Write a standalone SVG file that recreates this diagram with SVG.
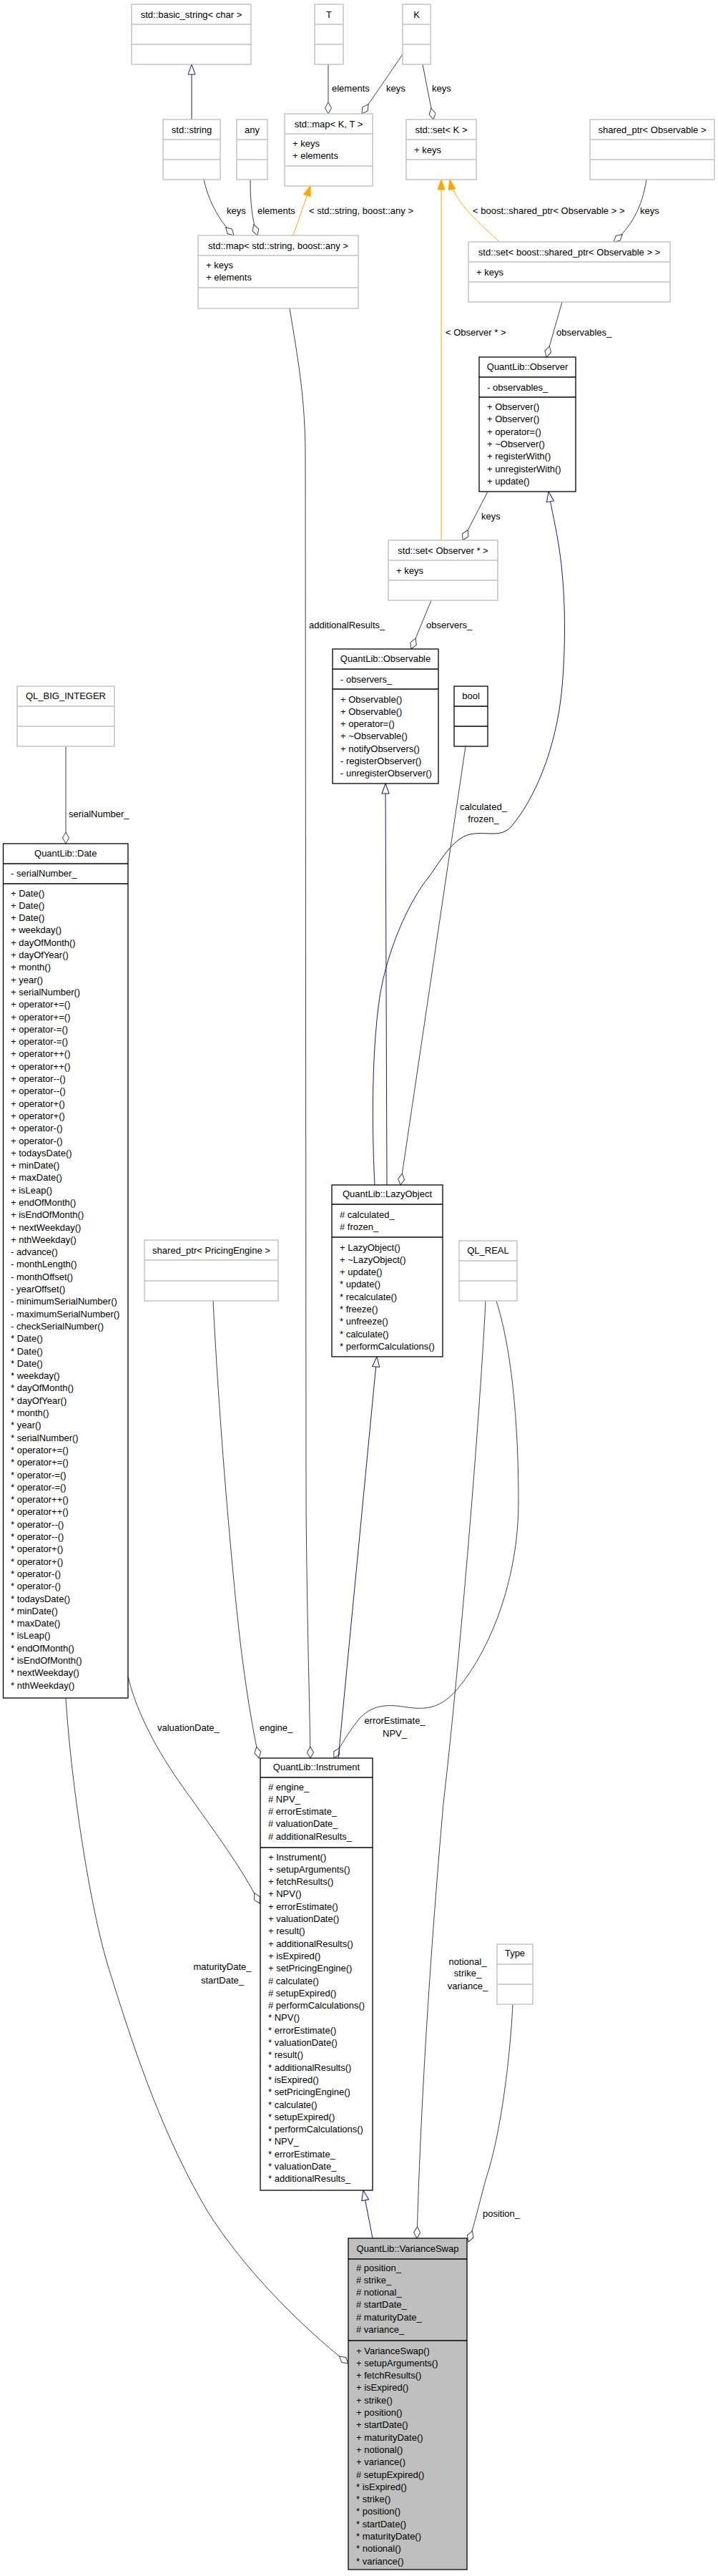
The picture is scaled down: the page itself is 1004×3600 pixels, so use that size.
<svg xmlns="http://www.w3.org/2000/svg" width="1004" height="3600" viewBox="0 0 1004 3600">
<style>
text{font-family:"Liberation Sans",Arial,Helvetica,sans-serif;font-size:13px;fill:#000}
.c{text-anchor:middle}
.g rect{fill:#fff;stroke:#bfbfbf;stroke-width:1.4}
.g line{stroke:#bfbfbf;stroke-width:1.4}
.b rect{fill:#fff;stroke:#000;stroke-width:1.3}
.b line{stroke:#000;stroke-width:1.3}
#n_vs rect{fill:#bfbfbf}
.use{fill:none;stroke:#404040;stroke-width:1;marker-end:url(#dia)}
.inh{fill:none;stroke:#191970;stroke-width:1;marker-end:url(#inh)}
.tpl{fill:none;stroke:#ffa500;stroke-width:1;marker-end:url(#tpl)}
</style>
<defs>
<marker id="dia" markerUnits="userSpaceOnUse" markerWidth="20" markerHeight="14" viewBox="-1 -7 20 14" refX="16" refY="0" orient="auto"><path d="M0,0 L8,-4.5 L16,0 L8,4.5 Z" fill="#fff" stroke="#404040" stroke-width="1"/></marker>
<marker id="inh" markerUnits="userSpaceOnUse" markerWidth="18" markerHeight="14" viewBox="-1 -7 18 14" refX="14" refY="0" orient="auto"><path d="M0,-5 L14,0 L0,5 Z" fill="#fff" stroke="#191970" stroke-width="1"/></marker>
<marker id="tpl" markerUnits="userSpaceOnUse" markerWidth="18" markerHeight="14" viewBox="-1 -7 18 14" refX="14" refY="0" orient="auto"><path d="M0,-5 L14,0 L0,5 Z" fill="#ffa500" stroke="#ffa500" stroke-width="1"/></marker>
</defs>
<rect x="0" y="0" width="1004" height="3600" fill="#fff"/>

<g id="edges">
<path class="inh" d="M268,167 L268,90"/>
<path class="use" d="M459,90 L459,159"/>
<path class="use" d="M563,76 L506,159"/>
<path class="use" d="M591,90 L606,167"/>
<path class="use" d="M285,251 C291,278 304,306 327,329"/>
<path class="use" d="M350,251 C350,282 352,306 360,329"/>
<path class="tpl" d="M410,329 L434,260"/>
<path class="tpl" d="M617,755 L617,251"/>
<path class="tpl" d="M698,338 C675,315 636,285 629,251"/>
<path class="use" d="M904,251 C898,290 882,318 858,338"/>
<path class="use" d="M786,422 L764,499"/>
<path class="use" d="M682,687 L647,755"/>
<path class="use" d="M603,839 L575,907"/>
<path class="use" d="M405,431 C418,510 427,560 427,640 L428,2100 C429,2250 433,2380 434,2457"/>
<path class="use" d="M92,1043 L92,1179"/>
<path class="inh" d="M541,1656 L539,1095"/>
<path class="inh" d="M524,1656 C521,1600 518,1480 531,1393 C541,1330 570,1262 600,1225 C615,1205 632,1172 657,1166 C680,1161 700,1172 715,1155 C745,1120 778,1050 786,960 C792,890 790,820 782,767 C778,740 771,710 767,687"/>
<path class="use" d="M651,1043 L560,1656"/>
<path class="use" d="M298,1818 C302,1900 312,2060 330,2240 C340,2340 352,2410 362,2457"/>
<path class="use" d="M179,2343 C195,2410 238,2474 267,2513 C300,2560 338,2610 363,2660"/>
<path class="use" d="M694,1818 C714,1880 725,1980 725,2100 C725,2200 690,2300 640,2360 C618,2386 598,2390 570,2386 C545,2382 520,2380 500,2405 C488,2420 476,2440 467,2457"/>
<path class="inh" d="M473,2457 L527,1896"/>
<path class="use" d="M679,1818 C670,2000 640,2350 620,2520 C600,2750 588,2950 583,3128"/>
<path class="use" d="M717,2801 C712,2900 696,2995 681,3040 C672,3070 665,3105 655,3133"/>
<path class="use" d="M92,2373 C100,2500 128,2680 155,2760 C192,2880 232,2992 290,3090 C340,3170 420,3250 487,3303"/>
<path class="inh" d="M521,3128 L508,3061"/>
<text x="464" y="127.5">elements</text>
<text x="540" y="127.5">keys</text>
<text x="604" y="127.5">keys</text>
<text x="317" y="298.5">keys</text>
<text x="360" y="298.5">elements</text>
<text x="432" y="298.5">&lt; std::string, boost::any &gt;</text>
<text x="661" y="298.5">&lt; boost::shared_ptr&lt; Observable &gt; &gt;</text>
<text x="895" y="298.5">keys</text>
<text x="623" y="468.5">&lt; Observer * &gt;</text>
<text x="778" y="468.5">observables_</text>
<text x="673" y="725.5">keys</text>
<text x="432" y="877.5">additionalResults_</text>
<text x="596" y="877.5">observers_</text>
<text x="96" y="1141.5">serialNumber_</text>
<text class="c" x="676" y="1131.5">calculated_</text>
<text class="c" x="676" y="1148.5">frozen_</text>
<text x="220" y="2418.5">valuationDate_</text>
<text x="363" y="2418.5">engine_</text>
<text class="c" x="552" y="2408.5">errorEstimate_</text>
<text class="c" x="552" y="2427">NPV_</text>
<text class="c" x="311" y="2752.5">maturityDate_</text>
<text class="c" x="311" y="2771.5">startDate_</text>
<text class="c" x="654" y="2745.5">notional_</text>
<text class="c" x="654" y="2762">strike_</text>
<text class="c" x="654" y="2779.5">variance_</text>
<text x="675" y="3097.5">position_</text>
</g>

<g id="n_basic_string" class="g"><rect x="184" y="6" width="167" height="84"/><line x1="184" y1="34" x2="351" y2="34"/><line x1="184" y1="62" x2="351" y2="62"/><text class="c" x="267.5" y="24.5">std::basic_string&lt; char &gt;</text></g>
<g id="n_T" class="g"><rect x="440" y="6" width="40" height="84"/><line x1="440" y1="34" x2="480" y2="34"/><line x1="440" y1="62" x2="480" y2="62"/><text class="c" x="460" y="24.5">T</text></g>
<g id="n_K" class="g"><rect x="563" y="6" width="39" height="84"/><line x1="563" y1="34" x2="602" y2="34"/><line x1="563" y1="62" x2="602" y2="62"/><text class="c" x="582.5" y="24.5">K</text></g>
<g id="n_string" class="g"><rect x="228" y="167" width="80" height="84"/><line x1="228" y1="195" x2="308" y2="195"/><line x1="228" y1="223" x2="308" y2="223"/><text class="c" x="268" y="185.5">std::string</text></g>
<g id="n_any" class="g"><rect x="331" y="167" width="43" height="84"/><line x1="331" y1="195" x2="374" y2="195"/><line x1="331" y1="223" x2="374" y2="223"/><text class="c" x="352.5" y="185.5">any</text></g>
<g id="n_mapKT" class="g"><rect x="398" y="159" width="123" height="101"/><line x1="398" y1="187" x2="521" y2="187"/><line x1="398" y1="232" x2="521" y2="232"/><text class="c" x="459.5" y="177.5">std::map&lt; K, T &gt;</text><text x="409" y="204.5">+ keys</text><text x="409" y="221.8">+ elements</text></g>
<g id="n_setK" class="g"><rect x="568" y="167" width="98" height="84"/><line x1="568" y1="195" x2="666" y2="195"/><line x1="568" y1="223" x2="666" y2="223"/><text class="c" x="617" y="185.5">std::set&lt; K &gt;</text><text x="579" y="213.5">+ keys</text></g>
<g id="n_sp_observable" class="g"><rect x="825" y="167" width="174" height="84"/><line x1="825" y1="195" x2="999" y2="195"/><line x1="825" y1="223" x2="999" y2="223"/><text class="c" x="912" y="185.5">shared_ptr&lt; Observable &gt;</text></g>
<g id="n_map_string_any" class="g"><rect x="277" y="329" width="224" height="102"/><line x1="277" y1="357" x2="501" y2="357"/><line x1="277" y1="402" x2="501" y2="402"/><text class="c" x="389" y="347.5">std::map&lt; std::string, boost::any &gt;</text><text x="288" y="374.5">+ keys</text><text x="288" y="391.8">+ elements</text></g>
<g id="n_set_sp" class="g"><rect x="655" y="338" width="282" height="84"/><line x1="655" y1="366" x2="937" y2="366"/><line x1="655" y1="394" x2="937" y2="394"/><text class="c" x="796" y="356.5">std::set&lt; boost::shared_ptr&lt; Observable &gt; &gt;</text><text x="666" y="384.5">+ keys</text></g>
<g id="n_observer" class="b"><rect x="670" y="499" width="135" height="188"/><line x1="670" y1="527" x2="805" y2="527"/><line x1="670" y1="555" x2="805" y2="555"/><text class="c" x="737.5" y="517">QuantLib::Observer</text><text x="681" y="545.5">- observables_</text>
<text x="681" y="573"><tspan x="681">+ Observer()</tspan><tspan x="681" dy="17.3">+ Observer()</tspan><tspan x="681" dy="17.3">+ operator=()</tspan><tspan x="681" dy="17.3">+ ~Observer()</tspan><tspan x="681" dy="17.3">+ registerWith()</tspan><tspan x="681" dy="17.3">+ unregisterWith()</tspan><tspan x="681" dy="17.3">+ update()</tspan></text></g>
<g id="n_set_observer" class="g"><rect x="543" y="755" width="153" height="84"/><line x1="543" y1="783" x2="696" y2="783"/><line x1="543" y1="811" x2="696" y2="811"/><text class="c" x="619.5" y="773.5">std::set&lt; Observer * &gt;</text><text x="554" y="801.5">+ keys</text></g>
<g id="n_observable" class="b"><rect x="465" y="907" width="148" height="188"/><line x1="465" y1="935" x2="613" y2="935"/><line x1="465" y1="963" x2="613" y2="963"/><text class="c" x="539" y="925">QuantLib::Observable</text><text x="476" y="953.5">- observers_</text>
<text x="476" y="981.5"><tspan x="476">+ Observable()</tspan><tspan x="476" dy="17.3">+ Observable()</tspan><tspan x="476" dy="17.3">+ operator=()</tspan><tspan x="476" dy="17.3">+ ~Observable()</tspan><tspan x="476" dy="17.3">+ notifyObservers()</tspan><tspan x="476" dy="17.3">- registerObserver()</tspan><tspan x="476" dy="17.3">- unregisterObserver()</tspan></text></g>
<g id="n_bool" class="b"><rect x="635" y="959" width="47" height="84"/><line x1="635" y1="987" x2="682" y2="987"/><line x1="635" y1="1015" x2="682" y2="1015"/><text class="c" x="658.5" y="977">bool</text></g>
<g id="n_ql_big_integer" class="g"><rect x="24" y="959" width="136" height="84"/><line x1="24" y1="987" x2="160" y2="987"/><line x1="24" y1="1015" x2="160" y2="1015"/><text class="c" x="92" y="977">QL_BIG_INTEGER</text></g>
<g id="n_date" class="b"><rect x="4.5" y="1179" width="174.5" height="1194"/><line x1="4.5" y1="1207" x2="179" y2="1207"/><line x1="4.5" y1="1235" x2="179" y2="1235"/><text class="c" x="91.75" y="1196.5">QuantLib::Date</text><text x="15" y="1224.5">- serialNumber_</text>
<text x="15" y="1252.5"><tspan x="15">+ Date()</tspan><tspan x="15" dy="17.3">+ Date()</tspan><tspan x="15" dy="17.3">+ Date()</tspan><tspan x="15" dy="17.3">+ weekday()</tspan><tspan x="15" dy="17.3">+ dayOfMonth()</tspan><tspan x="15" dy="17.3">+ dayOfYear()</tspan><tspan x="15" dy="17.3">+ month()</tspan><tspan x="15" dy="17.3">+ year()</tspan><tspan x="15" dy="17.3">+ serialNumber()</tspan><tspan x="15" dy="17.3">+ operator+=()</tspan><tspan x="15" dy="17.3">+ operator+=()</tspan><tspan x="15" dy="17.3">+ operator-=()</tspan><tspan x="15" dy="17.3">+ operator-=()</tspan><tspan x="15" dy="17.3">+ operator++()</tspan><tspan x="15" dy="17.3">+ operator++()</tspan><tspan x="15" dy="17.3">+ operator--()</tspan><tspan x="15" dy="17.3">+ operator--()</tspan><tspan x="15" dy="17.3">+ operator+()</tspan><tspan x="15" dy="17.3">+ operator+()</tspan><tspan x="15" dy="17.3">+ operator-()</tspan><tspan x="15" dy="17.3">+ operator-()</tspan><tspan x="15" dy="17.3">+ todaysDate()</tspan><tspan x="15" dy="17.3">+ minDate()</tspan><tspan x="15" dy="17.3">+ maxDate()</tspan><tspan x="15" dy="17.3">+ isLeap()</tspan><tspan x="15" dy="17.3">+ endOfMonth()</tspan><tspan x="15" dy="17.3">+ isEndOfMonth()</tspan><tspan x="15" dy="17.3">+ nextWeekday()</tspan><tspan x="15" dy="17.3">+ nthWeekday()</tspan><tspan x="15" dy="17.3">- advance()</tspan><tspan x="15" dy="17.3">- monthLength()</tspan><tspan x="15" dy="17.3">- monthOffset()</tspan><tspan x="15" dy="17.3">- yearOffset()</tspan><tspan x="15" dy="17.3">- minimumSerialNumber()</tspan><tspan x="15" dy="17.3">- maximumSerialNumber()</tspan><tspan x="15" dy="17.3">- checkSerialNumber()</tspan><tspan x="15" dy="17.3">* Date()</tspan><tspan x="15" dy="17.3">* Date()</tspan><tspan x="15" dy="17.3">* Date()</tspan><tspan x="15" dy="17.3">* weekday()</tspan><tspan x="15" dy="17.3">* dayOfMonth()</tspan><tspan x="15" dy="17.3">* dayOfYear()</tspan><tspan x="15" dy="17.3">* month()</tspan><tspan x="15" dy="17.3">* year()</tspan><tspan x="15" dy="17.3">* serialNumber()</tspan><tspan x="15" dy="17.3">* operator+=()</tspan><tspan x="15" dy="17.3">* operator+=()</tspan><tspan x="15" dy="17.3">* operator-=()</tspan><tspan x="15" dy="17.3">* operator-=()</tspan><tspan x="15" dy="17.3">* operator++()</tspan><tspan x="15" dy="17.3">* operator++()</tspan><tspan x="15" dy="17.3">* operator--()</tspan><tspan x="15" dy="17.3">* operator--()</tspan><tspan x="15" dy="17.3">* operator+()</tspan><tspan x="15" dy="17.3">* operator+()</tspan><tspan x="15" dy="17.3">* operator-()</tspan><tspan x="15" dy="17.3">* operator-()</tspan><tspan x="15" dy="17.3">* todaysDate()</tspan><tspan x="15" dy="17.3">* minDate()</tspan><tspan x="15" dy="17.3">* maxDate()</tspan><tspan x="15" dy="17.3">* isLeap()</tspan><tspan x="15" dy="17.3">* endOfMonth()</tspan><tspan x="15" dy="17.3">* isEndOfMonth()</tspan><tspan x="15" dy="17.3">* nextWeekday()</tspan><tspan x="15" dy="17.3">* nthWeekday()</tspan></text></g>
<g id="n_sp_pricingengine" class="g"><rect x="202" y="1733" width="187" height="85"/><line x1="202" y1="1761" x2="389" y2="1761"/><line x1="202" y1="1790" x2="389" y2="1790"/><text class="c" x="295.5" y="1751.5">shared_ptr&lt; PricingEngine &gt;</text></g>
<g id="n_lazyobject" class="b"><rect x="464" y="1656" width="155" height="240"/><line x1="464" y1="1683" x2="619" y2="1683"/><line x1="464" y1="1729" x2="619" y2="1729"/><text class="c" x="541.5" y="1673">QuantLib::LazyObject</text><text x="475" y="1701.5"><tspan x="475"># calculated_</tspan><tspan x="475" dy="17.3"># frozen_</tspan></text>
<text x="475" y="1747.5"><tspan x="475">+ LazyObject()</tspan><tspan x="475" dy="17.3">+ ~LazyObject()</tspan><tspan x="475" dy="17.3">+ update()</tspan><tspan x="475" dy="17.3">* update()</tspan><tspan x="475" dy="17.3">* recalculate()</tspan><tspan x="475" dy="17.3">* freeze()</tspan><tspan x="475" dy="17.3">* unfreeze()</tspan><tspan x="475" dy="17.3">* calculate()</tspan><tspan x="475" dy="17.3">* performCalculations()</tspan></text></g>
<g id="n_ql_real" class="g"><rect x="642" y="1734" width="81" height="84"/><line x1="642" y1="1762" x2="723" y2="1762"/><line x1="642" y1="1790" x2="723" y2="1790"/><text class="c" x="682.5" y="1752">QL_REAL</text></g>
<g id="n_instrument" class="b"><rect x="364" y="2457" width="157" height="604"/><line x1="364" y1="2484" x2="521" y2="2484"/><line x1="364" y1="2582" x2="521" y2="2582"/><text class="c" x="442.5" y="2473.5">QuantLib::Instrument</text>
<text x="375" y="2501.5"><tspan x="375"># engine_</tspan><tspan x="375" dy="17.3"># NPV_</tspan><tspan x="375" dy="17.3"># errorEstimate_</tspan><tspan x="375" dy="17.3"># valuationDate_</tspan><tspan x="375" dy="17.3"># additionalResults_</tspan></text>
<text x="375" y="2599.5"><tspan x="375">+ Instrument()</tspan><tspan x="375" dy="17.3">+ setupArguments()</tspan><tspan x="375" dy="17.3">+ fetchResults()</tspan><tspan x="375" dy="17.3">+ NPV()</tspan><tspan x="375" dy="17.3">+ errorEstimate()</tspan><tspan x="375" dy="17.3">+ valuationDate()</tspan><tspan x="375" dy="17.3">+ result()</tspan><tspan x="375" dy="17.3">+ additionalResults()</tspan><tspan x="375" dy="17.3">+ isExpired()</tspan><tspan x="375" dy="17.3">+ setPricingEngine()</tspan><tspan x="375" dy="17.3"># calculate()</tspan><tspan x="375" dy="17.3"># setupExpired()</tspan><tspan x="375" dy="17.3"># performCalculations()</tspan><tspan x="375" dy="17.3">* NPV()</tspan><tspan x="375" dy="17.3">* errorEstimate()</tspan><tspan x="375" dy="17.3">* valuationDate()</tspan><tspan x="375" dy="17.3">* result()</tspan><tspan x="375" dy="17.3">* additionalResults()</tspan><tspan x="375" dy="17.3">* isExpired()</tspan><tspan x="375" dy="17.3">* setPricingEngine()</tspan><tspan x="375" dy="17.3">* calculate()</tspan><tspan x="375" dy="17.3">* setupExpired()</tspan><tspan x="375" dy="17.3">* performCalculations()</tspan><tspan x="375" dy="17.3">* NPV_</tspan><tspan x="375" dy="17.3">* errorEstimate_</tspan><tspan x="375" dy="17.3">* valuationDate_</tspan><tspan x="375" dy="17.3">* additionalResults_</tspan></text></g>
<g id="n_type" class="g"><rect x="695" y="2717" width="50" height="84"/><line x1="695" y1="2745" x2="745" y2="2745"/><line x1="695" y1="2773" x2="745" y2="2773"/><text class="c" x="720" y="2733.5">Type</text></g>
<g id="n_vs" class="b"><rect x="487" y="3128" width="166" height="463"/><line x1="487" y1="3157" x2="653" y2="3157"/><line x1="487" y1="3271" x2="653" y2="3271"/><text class="c" x="570" y="3146.5">QuantLib::VarianceSwap</text>
<text x="498" y="3173.5"><tspan x="498"># position_</tspan><tspan x="498" dy="17.3"># strike_</tspan><tspan x="498" dy="17.3"># notional_</tspan><tspan x="498" dy="17.3"># startDate_</tspan><tspan x="498" dy="17.3"># maturityDate_</tspan><tspan x="498" dy="17.3"># variance_</tspan></text>
<text x="498" y="3289.5"><tspan x="498">+ VarianceSwap()</tspan><tspan x="498" dy="17.3">+ setupArguments()</tspan><tspan x="498" dy="17.3">+ fetchResults()</tspan><tspan x="498" dy="17.3">+ isExpired()</tspan><tspan x="498" dy="17.3">+ strike()</tspan><tspan x="498" dy="17.3">+ position()</tspan><tspan x="498" dy="17.3">+ startDate()</tspan><tspan x="498" dy="17.3">+ maturityDate()</tspan><tspan x="498" dy="17.3">+ notional()</tspan><tspan x="498" dy="17.3">+ variance()</tspan><tspan x="498" dy="17.3"># setupExpired()</tspan><tspan x="498" dy="17.3">* isExpired()</tspan><tspan x="498" dy="17.3">* strike()</tspan><tspan x="498" dy="17.3">* position()</tspan><tspan x="498" dy="17.3">* startDate()</tspan><tspan x="498" dy="17.3">* maturityDate()</tspan><tspan x="498" dy="17.3">* notional()</tspan><tspan x="498" dy="17.3">* variance()</tspan></text></g>
</svg>
